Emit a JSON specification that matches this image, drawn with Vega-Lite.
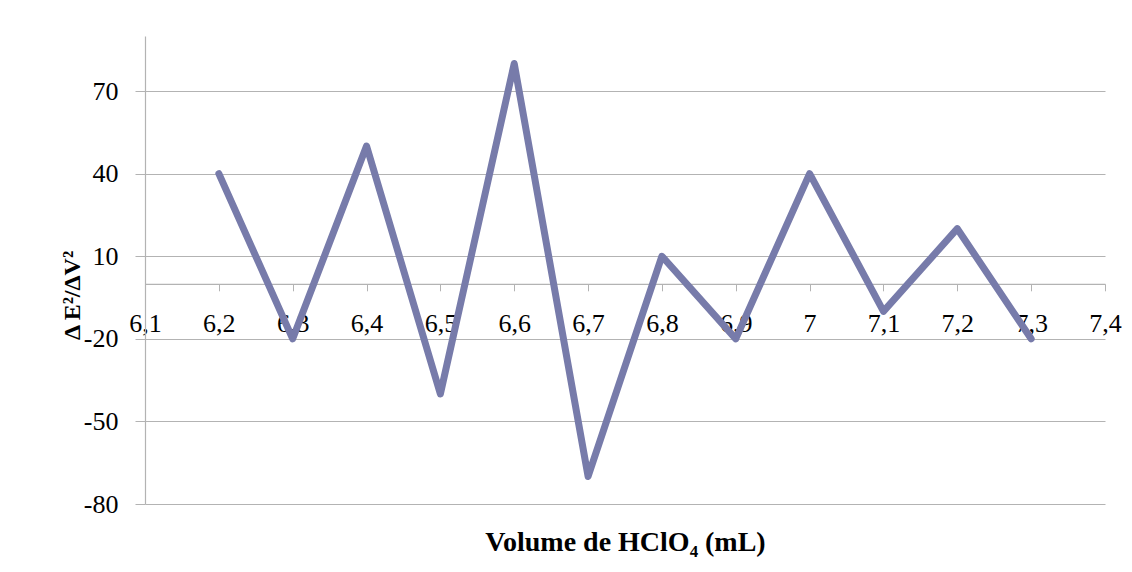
{
  "$schema": "https://vega.github.io/schema/vega-lite/v6.json",
  "autosize": {"type": "none"},
  "width": 960,
  "height": 468,
  "padding": {"left": 145, "top": 36, "right": 27, "bottom": 68},
  "background": "white",
  "config": {"view": {"stroke": null}, "font": "Liberation Serif"},
  "data": {
    "values": [
      {"volume": 6.2, "value": 40},
      {"volume": 6.3, "value": -20},
      {"volume": 6.4, "value": 50},
      {"volume": 6.5, "value": -40},
      {"volume": 6.6, "value": 80},
      {"volume": 6.7, "value": -70},
      {"volume": 6.8, "value": 10},
      {"volume": 6.9, "value": -20},
      {"volume": 7.0, "value": 40},
      {"volume": 7.1, "value": -10},
      {"volume": 7.2, "value": 20},
      {"volume": 7.3, "value": -20}
    ]
  },
  "mark": {"type": "line", "color": "#777BAA", "strokeWidth": 7, "strokeJoin": "round", "strokeCap": "round", "clip": false},
  "encoding": {
    "x": {
      "field": "volume",
      "type": "quantitative",
      "scale": {"domain": [6.1, 7.4], "nice": false, "zero": false},
      "axis": {
        "title": "Volume de HClO₄ (mL)",
        "titleFont": "Liberation Serif",
        "titleFontSize": 28,
        "titleFontWeight": "bold",
        "titleColor": "#000000",
        "titleY": 259,
        "titleBaseline": "middle",
        "values": [6.1, 6.2, 6.3, 6.4, 6.5, 6.6, 6.7, 6.8, 6.9, 7.0, 7.1, 7.2, 7.3, 7.4],
        "labelExpr": "replace(format(datum.value, '.2~r'), '.', ',')",
        "labelFont": "Liberation Serif",
        "labelFontSize": 26,
        "labelColor": "#000000",
        "labelBaseline": "top",
        "labelPadding": 20,
        "labelOverlap": false,
        "labelFlush": false,
        "offset": -220.2,
        "domainColor": "#b3b3b3",
        "domainWidth": 1.2,
        "tickColor": "#b3b3b3",
        "tickSize": 7,
        "grid": false
      }
    },
    "y": {
      "field": "value",
      "type": "quantitative",
      "scale": {"domain": [-80, 90], "nice": false, "zero": false},
      "axis": {
        "title": "Δ E²/ΔV²",
        "titleFont": "Liberation Serif",
        "titleFontSize": 24,
        "titleFontWeight": "bold",
        "titleColor": "#000000",
        "titleAngle": -90,
        "titleX": -73,
        "titleY": 259,
        "titleAlign": "center",
        "titleBaseline": "middle",
        "values": [-80, -50, -20, 10, 40, 70],
        "labelExpr": "datum.value < 0 ? '-' + abs(datum.value) : '' + datum.value",
        "labelFont": "Liberation Serif",
        "labelFontSize": 26,
        "labelColor": "#000000",
        "labelPadding": 17,
        "domainColor": "#b3b3b3",
        "domainWidth": 1.2,
        "tickColor": "#b3b3b3",
        "tickSize": 10,
        "grid": true,
        "gridColor": "#b3b3b3",
        "gridWidth": 1.2
      }
    }
  }
}
